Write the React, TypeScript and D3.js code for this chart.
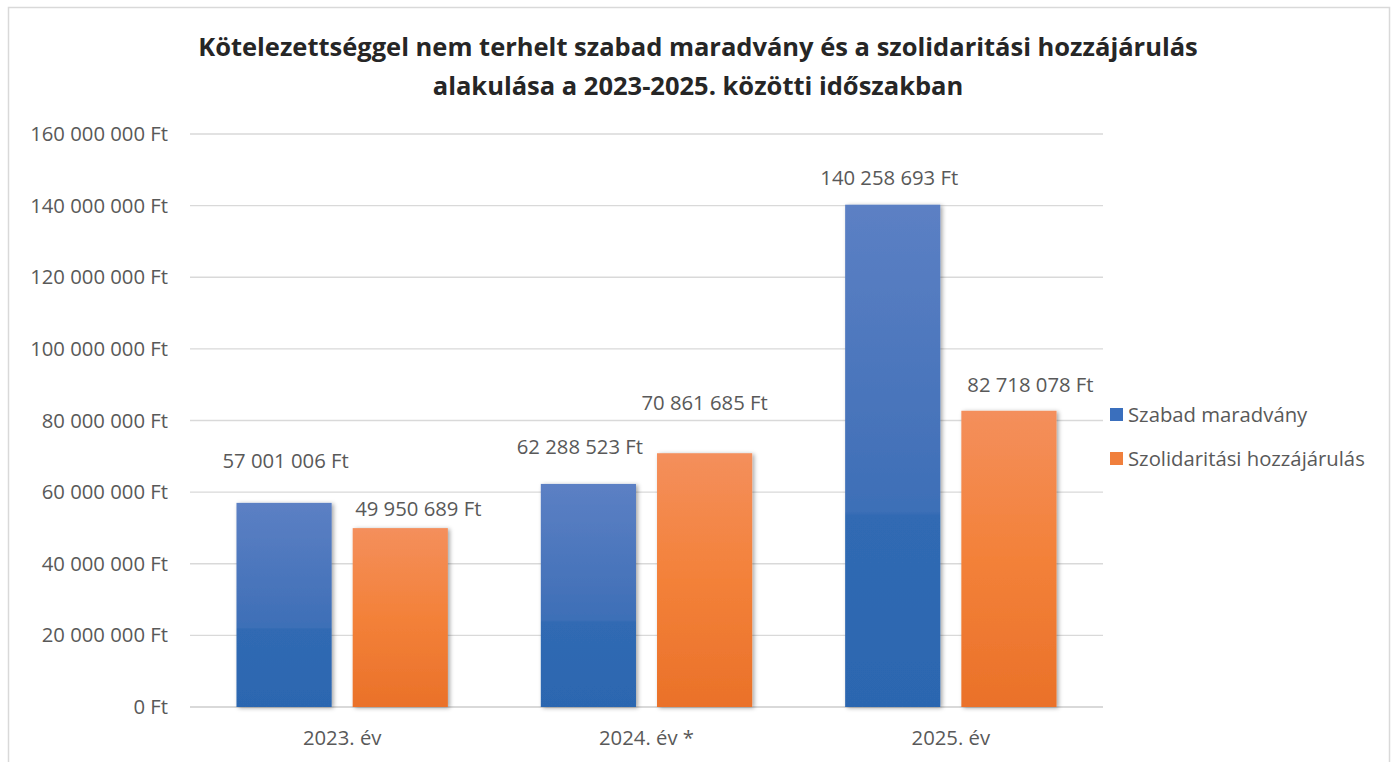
import React from "react";
import * as d3 from "d3";

const categories = ["2023. év", "2024. év *", "2025. év"];
const seriesNames = ["Szabad maradvány", "Szolidaritási hozzájárulás"];
const szabadMaradvany = [57001006, 62288523, 140258693];
const szolidaritasi = [49950689, 70861685, 82718078];
const yTicks = [0, 20000000, 40000000, 60000000, 80000000, 100000000, 120000000, 140000000, 160000000];
const titleLines = [
  "Kötelezettséggel nem terhelt szabad maradvány és a szolidaritási hozzájárulás",
  "alakulása a 2023-2025. közötti időszakban",
];

// manual label nudges (layout only), [series][category] -> [dx, dy]
const labelNudges = [
  [[1.5, -42], [-8.5, -37], [-3.5, -27]],
  [[18, -19], [0, -50], [21.5, -26]],
];

const W = 1394;
const H = 762;
const FONT = "'Open Sans', 'Noto Sans', sans-serif";
const TXT = "#595959";
const FS = 20.3;

const huLocale = d3.formatLocale({ decimal: ",", thousands: " ", grouping: [3], currency: ["", " Ft"] });
const fmt = (v: number) => huLocale.format(",.0f")(v) + " Ft";

export default function App() {
  const plot = { left: 190, right: 1103, top: 134, bottom: 707 };
  const x0 = d3.scaleBand<string>().domain(categories).range([plot.left, plot.right]).paddingInner(0).paddingOuter(0);
  const x1 = d3.scaleBand<string>().domain(seriesNames).range([0, x0.bandwidth()]).paddingInner(0.181).paddingOuter(0.4);
  const y = d3.scaleLinear().domain([0, 160000000]).range([plot.bottom, plot.top]);
  const seriesData = [szabadMaradvany, szolidaritasi];
  const fills = ["url(#gBlue)", "url(#gOrange)"];
  const legendColors = ["#3a6fbd", "#f07f3c"];

  return (
    <svg width={W} height={H} style={{ position: "absolute", left: 0, top: 0, background: "#fff" }} fontFamily={FONT}>
      <defs>
        <linearGradient id="gBlue" x1="0" y1="0" x2="0" y2="1">
          <stop offset="0" stopColor="#5c80c4" />
          <stop offset="0.45" stopColor="#4673ba" />
          <stop offset="0.61" stopColor="#3d6fb7" />
          <stop offset="0.62" stopColor="#306ab3" />
          <stop offset="1" stopColor="#2c66b0" />
        </linearGradient>
        <linearGradient id="gOrange" x1="0" y1="0" x2="0" y2="1">
          <stop offset="0" stopColor="#f48f5c" />
          <stop offset="0.5" stopColor="#f38139" />
          <stop offset="1" stopColor="#ea7129" />
        </linearGradient>
        <filter id="shadow" x="-20%" y="-10%" width="140%" height="120%">
          <feDropShadow dx="2" dy="1" stdDeviation="2.2" floodColor="#000" floodOpacity="0.35" />
        </filter>
      </defs>
      <rect x={8.5} y={7.5} width={1381} height={800} fill="#fff" stroke="#d9d9d9" strokeWidth={1.5} />

      {titleLines.map((t, i) => (
        <text key={i} x={698} y={56 + i * 39} textAnchor="middle" fontWeight="bold" fontSize={25.5} fill="#262626">
          {t}
        </text>
      ))}

      {yTicks.map((t) => (
        <g key={t}>
          <line x1={plot.left} x2={plot.right} y1={y(t)} y2={y(t)} stroke="#d9d9d9" strokeWidth={t === 0 ? 2 : 1.3} />
          <text x={168} y={y(t)} dy="0.35em" textAnchor="end" fontSize={FS} fill={TXT}>
            {fmt(t)}
          </text>
        </g>
      ))}

      {categories.map((c) => (
        <text key={c} x={(x0(c) as number) + x0.bandwidth() / 2} y={738} dy="0.35em" textAnchor="middle" fontSize={FS} fill={TXT}>
          {c}
        </text>
      ))}

      {seriesData.map((vals, si) =>
        vals.map((v, ci) => {
          const bx = (x0(categories[ci]) as number) + (x1(seriesNames[si]) as number);
          return (
            <rect key={`${si}-${ci}`} x={bx} y={y(v)} width={x1.bandwidth()} height={y(0) - y(v)} fill={fills[si]}
              filter="url(#shadow)" />
          );
        })
      )}

      {seriesData.map((vals, si) =>
        vals.map((v, ci) => {
          const cx = (x0(categories[ci]) as number) + (x1(seriesNames[si]) as number) + x1.bandwidth() / 2;
          const [dx, dy] = labelNudges[si][ci];
          return (
            <text key={`l${si}-${ci}`} x={cx + dx} y={y(v) + dy} dy="0.35em" textAnchor="middle" fontSize={FS} fill={TXT}>
              {fmt(v)}
            </text>
          );
        })
      )}

      {seriesNames.map((s, i) => (
        <g key={s}>
          <rect x={1110} y={408 + i * 44} width={13} height={13} fill={legendColors[i]} />
          <text x={1128} y={415 + i * 44} dy="0.35em" fontSize={FS} fill={TXT}>
            {s}
          </text>
        </g>
      ))}
    </svg>
  );
}
